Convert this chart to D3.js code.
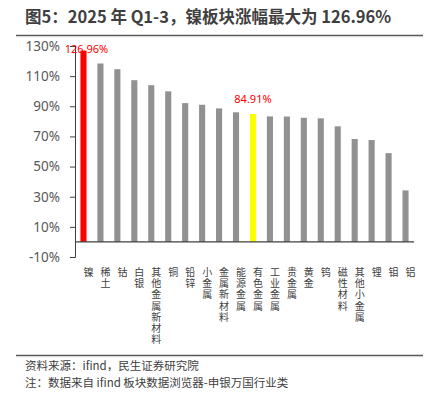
<!DOCTYPE html>
<html>
<head>
<meta charset="utf-8">
<script src="https://cdn.jsdelivr.net/npm/d3@7"></script>
<style>
  body { margin: 0; background: #fff; }
  svg { display: block; font-family: "Noto Sans CJK SC", "Noto Sans", sans-serif; }
</style>
</head>
<body>
<svg id="chart" width="431" height="394"></svg>
<script>
// sector names and Q1-3 2025 gains (%)
const sectors = ["镍", "稀土", "钴", "白银", "其他金属新材料", "铜", "铅锌", "小金属", "金属新材料", "能源金属",
    "有色金属", "工业金属", "贵金属", "黄金", "钨", "磁性材料", "其他小金属", "锂", "钼", "铝"];
const gains = [126.96, 118.4, 114.6, 107.3, 104.0, 99.9, 92.1, 91.0, 88.6, 86.0,
    84.91, 83.3, 83.2, 82.4, 82.0, 76.7, 68.3, 67.6, 58.9, 34.2];
const yTicks = [-10, 10, 30, 50, 70, 90, 110, 130];
const highlights = { "镍": "#ff0000", "有色金属": "#ffff00" };
const labelled = ["镍", "有色金属"];

const svg = d3.select("#chart");
const mar = { top: 46, right: 17, bottom: 137, left: 75 };
const w = 431 - mar.left - mar.right;
const h = 394 - mar.top - mar.bottom;

// title + rules
svg.append("text")
    .attr("x", 25).attr("y", 23)
    .style("font-size", "16.5px").style("font-weight", "bold")
    .attr("fill", "#3f3f3f")
    .text("图5：2025 年 Q1-3，镍板块涨幅最大为 126.96%");
svg.append("line").attr("x1", 16).attr("x2", 423).attr("y1", 35.5).attr("y2", 35.5)
    .attr("stroke", "#595959").attr("stroke-width", 1.5);
svg.append("line").attr("x1", 16).attr("x2", 423).attr("y1", 355.5).attr("y2", 355.5)
    .attr("stroke", "#595959").attr("stroke-width", 1.5);
svg.append("text").attr("x", 25).attr("y", 370)
    .style("font-size", "11.5px").attr("fill", "#404040")
    .text("资料来源：ifind，民生证券研究院");
svg.append("text").attr("x", 25).attr("y", 387)
    .style("font-size", "11.5px").attr("fill", "#404040")
    .text("注：数据来自 ifind 板块数据浏览器-申银万国行业类");

const g = svg.append("g").attr("transform", `translate(${mar.left},${mar.top})`);

const x = d3.scaleBand().domain(sectors).range([0, w]).paddingInner(0.64).paddingOuter(0.32);
const y = d3.scaleLinear().domain([-10, 130]).range([h, 0]);

// y axis
const yAxis = g.append("g")
    .call(d3.axisLeft(y).tickValues(yTicks).tickSize(5).tickPadding(10).tickFormat(d => d + "%"));
yAxis.select(".domain").attr("stroke", "#404040").attr("d", `M-5,0.5H0.5V${h + 0.5}H-5`);
yAxis.selectAll(".tick line").attr("stroke", "#404040");
yAxis.selectAll(".tick text").attr("fill", "#595959").style("font-size", "13.5px")
    .style("font-family", "\"Noto Sans\", sans-serif");

// bars
g.selectAll("rect.bar")
    .data(sectors)
    .enter()
    .append("rect")
    .attr("class", "bar")
    .attr("x", d => x(d))
    .attr("width", x.bandwidth())
    .attr("y", (d, i) => y(gains[i]))
    .attr("height", (d, i) => y(0) - y(gains[i]))
    .attr("fill", d => highlights[d] || "#919191");

// zero line
g.append("line")
    .attr("x1", 0).attr("x2", w)
    .attr("y1", y(0)).attr("y2", y(0))
    .attr("stroke", "#404040").attr("stroke-width", 1.2);

// value labels
g.selectAll("text.val")
    .data(labelled)
    .enter()
    .append("text")
    .attr("class", "val")
    .attr("x", d => x(d) + x.bandwidth() / 2 + (d === "镍" ? 3 : 0))
    .attr("y", d => y(gains[sectors.indexOf(d)]) + (d === "镍" ? 2 : -11))
    .attr("text-anchor", "middle")
    .attr("fill", "#ff0000")
    .style("font-size", "11px")
    .style("font-family", "\"Noto Sans\", sans-serif")
    .text(d => d3.format(".2f")(gains[sectors.indexOf(d)]) + "%");

// vertical category labels, one char per line
const cat = g.selectAll("text.cat")
    .data(sectors)
    .enter()
    .append("text")
    .attr("class", "cat")
    .attr("text-anchor", "middle")
    .attr("fill", "#404040")
    .style("font-size", "10px");
cat.each(function (d) {
    const t = d3.select(this);
    const cx = x(d) + x.bandwidth() / 2 + 5;
    Array.from(d).forEach((c, i) => {
        t.append("tspan").attr("x", cx).attr("y", h + 19 + i * 11.2).text(c);
    });
});
</script>
</body>
</html>
